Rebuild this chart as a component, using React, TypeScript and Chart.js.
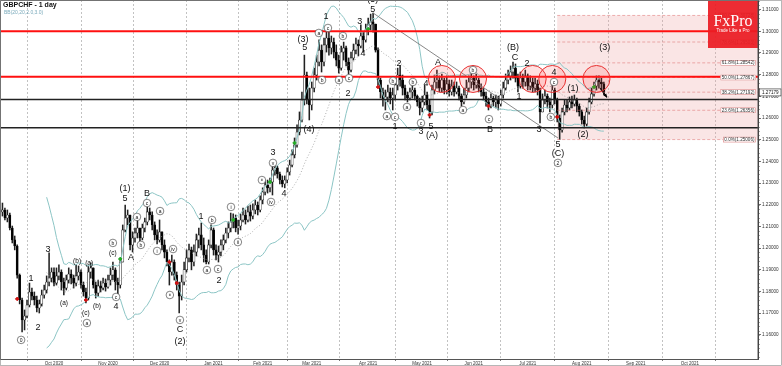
import React, { useEffect, useRef } from "react";
import { Chart, registerables } from "chart.js";
Chart.register(...registerables);

// ---- DATA (GBPCHF daily) ----
const firstOpen = 1.2180;
const closes = [
  1.2167,1.2176,1.2139,1.2153,1.2093,1.2038,1.2010,1.1876,1.1761,1.1669,
  1.1687,1.1738,1.1798,1.1779,1.1761,1.1724,1.1743,1.1784,1.1807,1.1844,
  1.1862,1.1890,1.1839,1.1872,1.1890,1.1844,1.1816,1.1853,1.1881,1.1862,
  1.1839,1.1872,1.1890,1.1830,1.1798,1.1770,1.1890,1.1909,1.1830,1.1793,
  1.1826,1.1816,1.1839,1.1821,1.1853,1.1876,1.1900,1.1844,1.1830,1.1936,
  1.2084,1.2139,1.2153,1.2015,1.2047,1.2070,1.2093,1.2047,1.2093,1.2121,
  1.2167,1.2153,1.2107,1.2061,1.2038,1.2075,1.2015,1.1982,1.1936,1.1890,
  1.1936,1.1876,1.1830,1.1779,1.1844,1.1900,1.1955,1.1992,1.1936,1.1982,
  1.2038,1.2061,1.2015,1.1968,1.1936,1.2015,1.2084,1.1992,1.1968,1.1982,
  1.2015,1.2038,1.2070,1.2093,1.2121,1.2139,1.2093,1.2102,1.2130,1.2153,
  1.2130,1.2167,1.2148,1.2176,1.2199,1.2176,1.2222,1.2259,1.2291,1.2278,
  1.2305,1.2360,1.2370,1.2342,1.2314,1.2296,1.2314,1.2351,1.2383,1.2430,
  1.2476,1.2535,1.2591,1.2683,1.2798,1.2683,1.2660,1.2738,1.2798,1.2858,
  1.2913,1.2858,1.2937,1.2969,1.2923,1.2950,1.2904,1.2867,1.2830,1.2904,
  1.2923,1.2858,1.2821,1.2877,1.2913,1.2941,1.2932,1.2978,1.2960,1.3006,
  1.3029,1.3043,1.3033,1.2913,1.2775,1.2720,1.2683,1.2697,1.2720,1.2692,
  1.2706,1.2752,1.2798,1.2775,1.2738,1.2706,1.2692,1.2720,1.2729,1.2701,
  1.2674,1.2646,1.2674,1.2706,1.2660,1.2628,1.2729,1.2766,1.2775,1.2738,
  1.2775,1.2729,1.2757,1.2720,1.2747,1.2720,1.2738,1.2701,1.2674,1.2706,
  1.2738,1.2766,1.2784,1.2752,1.2775,1.2738,1.2720,1.2701,1.2674,1.2660,
  1.2692,1.2674,1.2683,1.2665,1.2706,1.2738,1.2775,1.2794,1.2812,1.2830,
  1.2784,1.2747,1.2784,1.2766,1.2794,1.2747,1.2766,1.2738,1.2757,1.2729,
  1.2628,1.2683,1.2701,1.2674,1.2660,1.2729,1.2683,1.2600,1.2545,1.2628,
  1.2660,1.2646,1.2674,1.2665,1.2683,1.2655,1.2628,1.2591,1.2572,1.2628,
  1.2674,1.2711,1.2747,1.2775,1.2766,1.2757,1.2718,
];
const highs = [
  1.2199,1.2208,1.2185,1.2176,1.2162,1.2102,1.2056,1.2015,1.1881,1.1770,
  1.1715,1.1761,1.1839,1.1816,1.1798,1.1779,1.1761,1.1807,1.1830,1.1872,
  1.1978,1.1909,1.1909,1.1909,1.1923,1.1900,1.1862,1.1876,1.1909,1.1900,
  1.1876,1.1923,1.1918,1.1900,1.1844,1.1816,1.1918,1.1932,1.1909,1.1844,
  1.1853,1.1848,1.1862,1.1858,1.1876,1.1909,1.1936,1.1909,1.1862,1.1955,
  1.2107,1.2199,1.2176,1.2153,1.2075,1.2093,1.2130,1.2093,1.2111,1.2139,
  1.2190,1.2185,1.2167,1.2121,1.2084,1.2130,1.2075,1.2038,1.1992,1.1946,
  1.1968,1.1946,1.1890,1.1844,1.1876,1.1936,1.1992,1.2019,1.2005,1.2015,
  1.2065,1.2093,1.2116,1.2047,1.1992,1.2038,1.2107,1.2093,1.2015,1.2010,
  1.2038,1.2061,1.2093,1.2121,1.2162,1.2158,1.2153,1.2130,1.2158,1.2185,
  1.2176,1.2194,1.2199,1.2204,1.2222,1.2213,1.2241,1.2278,1.2310,1.2314,
  1.2323,1.2379,1.2388,1.2379,1.2351,1.2333,1.2333,1.2370,1.2406,1.2453,
  1.2508,1.2568,1.2628,1.2720,1.2890,1.2812,1.2738,1.2766,1.2830,1.2890,
  1.2960,1.2937,1.2969,1.3006,1.2996,1.2978,1.2969,1.2937,1.2890,1.2932,
  1.2950,1.2932,1.2877,1.2904,1.2941,1.2969,1.2960,1.3029,1.2996,1.3033,
  1.3061,1.3079,1.3084,1.3033,1.2923,1.2784,1.2738,1.2729,1.2752,1.2738,
  1.2738,1.2775,1.2830,1.2840,1.2798,1.2752,1.2720,1.2738,1.2757,1.2738,
  1.2706,1.2692,1.2701,1.2752,1.2720,1.2683,1.2752,1.2798,1.2821,1.2794,
  1.2803,1.2784,1.2794,1.2775,1.2775,1.2766,1.2766,1.2747,1.2711,1.2738,
  1.2775,1.2794,1.2803,1.2794,1.2803,1.2784,1.2757,1.2738,1.2720,1.2692,
  1.2711,1.2701,1.2706,1.2701,1.2729,1.2766,1.2803,1.2821,1.2840,1.2858,
  1.2849,1.2803,1.2812,1.2803,1.2821,1.2803,1.2794,1.2784,1.2784,1.2775,
  1.2738,1.2711,1.2729,1.2711,1.2692,1.2761,1.2738,1.2692,1.2614,1.2646,
  1.2683,1.2683,1.2697,1.2701,1.2706,1.2692,1.2665,1.2637,1.2609,1.2646,
  1.2692,1.2738,1.2766,1.2794,1.2794,1.2784,1.2766,
];
const lows = [
  1.2153,1.2148,1.2130,1.2121,1.2084,1.2024,1.1992,1.1862,1.1743,1.1614,
  1.1623,1.1678,1.1729,1.1761,1.1738,1.1706,1.1701,1.1733,1.1770,1.1793,
  1.1826,1.1844,1.1826,1.1830,1.1853,1.1807,1.1784,1.1807,1.1839,1.1835,
  1.1816,1.1826,1.1853,1.1816,1.1779,1.1747,1.1761,1.1862,1.1816,1.1770,
  1.1779,1.1798,1.1807,1.1802,1.1816,1.1830,1.1853,1.1807,1.1784,1.1816,
  1.1936,1.2075,1.2107,1.1992,1.1982,1.2028,1.2047,1.2028,1.2038,1.2075,
  1.2107,1.2130,1.2084,1.2038,1.2019,1.2028,1.1992,1.1955,1.1918,1.1830,
  1.1876,1.1853,1.1807,1.1701,1.1761,1.1830,1.1890,1.1936,1.1900,1.1918,
  1.1964,1.2001,1.1992,1.1936,1.1927,1.1927,1.2001,1.1968,1.1946,1.1936,
  1.1964,1.1992,1.2024,1.2047,1.2075,1.2093,1.2075,1.2065,1.2084,1.2121,
  1.2111,1.2121,1.2125,1.2135,1.2158,1.2153,1.2167,1.2204,1.2245,1.2254,
  1.2259,1.2245,1.2337,1.2323,1.2296,1.2282,1.2278,1.2301,1.2337,1.2374,
  1.2416,1.2466,1.2522,1.2582,1.2660,1.2665,1.2591,1.2637,1.2720,1.2775,
  1.2840,1.2812,1.2840,1.2904,1.2890,1.2895,1.2877,1.2840,1.2807,1.2821,
  1.2867,1.2840,1.2803,1.2812,1.2867,1.2895,1.2886,1.2923,1.2904,1.2950,
  1.2983,1.3006,1.2996,1.2904,1.2752,1.2692,1.2655,1.2637,1.2674,1.2665,
  1.2637,1.2683,1.2729,1.2747,1.2706,1.2683,1.2674,1.2683,1.2692,1.2683,
  1.2655,1.2614,1.2628,1.2660,1.2637,1.2600,1.2614,1.2711,1.2738,1.2720,
  1.2720,1.2711,1.2711,1.2701,1.2706,1.2701,1.2711,1.2683,1.2655,1.2665,
  1.2692,1.2720,1.2738,1.2729,1.2738,1.2720,1.2701,1.2683,1.2655,1.2637,
  1.2646,1.2655,1.2646,1.2637,1.2655,1.2692,1.2729,1.2757,1.2775,1.2784,
  1.2766,1.2720,1.2738,1.2738,1.2747,1.2729,1.2729,1.2720,1.2720,1.2706,
  1.2577,1.2628,1.2665,1.2646,1.2628,1.2646,1.2665,1.2582,1.2501,1.2535,
  1.2614,1.2628,1.2637,1.2646,1.2655,1.2628,1.2609,1.2572,1.2554,1.2563,
  1.2618,1.2665,1.2701,1.2729,1.2738,1.2729,1.2706,
];

const monthTickBars = [22, 44, 65, 87, 107, 127, 150, 172, 193, 215, 237, 259, 281, 302];
const monthTickLabels = ["Oct 2020","Nov 2020","Dec 2020","Jan 2021","Feb 2021","Mar 2021","Apr 2021","May 2021","Jun 2021","Jul 2021","Aug 2021","Sep 2021","Oct 2021",""];
const priceTicks = [1.16,1.17,1.18,1.19,1.20,1.21,1.22,1.23,1.24,1.25,1.26,1.27,1.28,1.29,1.30,1.31];

const redLevels = [1.3000, 1.2790];
const blackLevels = [1.2685, 1.2555];
const fibRatios = [100.0, 78.6, 61.8, 50.0, 38.2, 23.6, 0.0];
const fibLow = 1.25006;
const fibHigh = 1.30728;
const fibStartBar = 227;
const currentPrice = 1.27179;
const trendLineBars = [152, 227.3];
const trendLinePrices = [1.3084, 1.2508];
const circleBars = [180, 192.7, 217, 225, 243];
const circlePrice = 1.2780;
const arrowBars = [244.5, 247.3];
const arrowPrices = [1.2738, 1.2695];
const redMarkBars = [7, 35, 69, 72, 154, 175, 199, 227];
const redMarkPrices = [1.1766, 1.1761, 1.1936, 1.1839, 1.2743, 1.2614, 1.2655, 1.2605];
const greenMarkBars = [49, 95, 110, 120, 150, 242];
const greenMarkPrices = [1.1950, 1.2130, 1.2305, 1.2485, 1.3010, 1.2743];

// [bar, price, text, kind]  kind: L = wave number, c = circled, s = small
const waveLabels: [number, number, string, string][] = [
  [8.6,1.1577,"0","c"],[12.6,1.1858,"1","L"],[15.5,1.1632,"2","L"],[19.6,1.1992,"3","L"],
  [26.1,1.1747,"(a)","s"],[31.4,1.1941,"(b)","s"],[35.0,1.1701,"(c)","s"],[35.4,1.1655,"a","c"],
  [36.3,1.1932,"(a)","s"],[39.5,1.1733,"(b)","s"],[46.0,1.1978,"(c)","s"],[46.0,1.2024,"b","c"],
  [47.3,1.1775,"c","c"],[47.3,1.1729,"4","L"],[50.9,1.2273,"(1)","L"],[50.9,1.2231,"5","L"],
  [53.4,1.1959,"A","L"],[55.8,1.2144,"a","c"],[57.4,1.2015,"b","c"],[59.9,1.2254,"B","L"],
  [59.9,1.2208,"c","c"],[65.2,1.2171,"a","c"],[64.0,1.1987,"i","c"],[70.5,1.1996,"iv","c"],
  [69.2,1.1784,"iii","c"],[73.3,1.1669,"v","c"],[73.3,1.1623,"C","L"],[73.3,1.1569,"(2)","L"],
  [81.9,1.2144,"1","L"],[84.3,1.1899,"a","c"],[86.4,1.2130,"b","c"],[88.8,1.1904,"c","c"],
  [89.2,1.1853,"2","L"],[94.1,1.2190,"i","c"],[96.9,1.2028,"ii","c"],[106.7,1.2314,"iii","c"],
  [111.2,1.2393,"v","c"],[111.2,1.2439,"3","L"],[110.4,1.2213,"iv","c"],[115.7,1.2254,"4","L"],
  [123.4,1.2964,"(3)","L"],[124.2,1.2923,"5","L"],[125.9,1.2549,"(4)","L"],[129.9,1.2992,"a","c"],
  [132.8,1.3066,"1","L"],[133.6,1.3015,"c","c"],[131.2,1.2775,"b","c"],[138.1,1.2775,"a","c"],
  [139.7,1.2978,"b","c"],[142.2,1.2784,"c","c"],[141.8,1.2715,"2","L"],[146.6,1.3043,"3","L"],
  [147.9,1.2895,"4","L"],[151.9,1.3098,"5","L"],[151.9,1.3146,"(5)","L"],[157.6,1.2609,"a","c"],
  [160.9,1.2605,"c","c"],[160.1,1.2771,"b","c"],[162.5,1.2849,"2","L"],[168.2,1.2766,"b","c"],
  [160.9,1.2563,"1","L"],[165.8,1.2651,"a","c"],[171.5,1.2577,"c","c"],[171.5,1.2536,"3","L"],
  [173.5,1.2761,"4","L"],[175.6,1.2559,"5","L"],[176.0,1.2517,"(A)","L"],[178.4,1.2854,"A","L"],
  [188.6,1.2637,"a","c"],[192.7,1.2821,"b","c"],[199.2,1.2595,"c","c"],[199.6,1.2545,"B","L"],
  [209.0,1.2927,"(B)","L"],[209.8,1.2881,"C","L"],[214.7,1.2849,"2","L"],[211.4,1.2697,"1","L"],
  [219.6,1.2549,"3","L"],[224.4,1.2605,"b","c"],[225.7,1.2766,"c","c"],[225.7,1.2812,"4","L"],
  [227.3,1.2480,"5","L"],[227.3,1.2434,"(C)","L"],[227.3,1.2393,"2","c"],[233.4,1.2738,"(1)","L"],
  [237.5,1.2522,"(2)","L"],[246.4,1.2923,"(3)","L"],
];

const BB_PERIOD = 20;
const BB_DEV = 2;
const X_MAX = 308.8;
const Y_MIN = 1.1489;
const Y_MAX = 1.3144;
const FONT = '"Liberation Sans", Arial, sans-serif';

export default function App() {
  const ref = useRef<HTMLCanvasElement | null>(null);

  useEffect(() => {
    document.body.style.margin = "0";
    const canvas = ref.current!;
    const opens = closes.map((c, i) => (i === 0 ? firstOpen : closes[i - 1]));
    const wickData = closes.map((c, i) => ({ x: i, y: [Math.min(lows[i], opens[i], c), Math.max(highs[i], opens[i], c)] }));
    const bodyData = closes.map((c, i) => {
      const lo = Math.min(opens[i], c), hi = Math.max(opens[i], c);
      return { x: i, y: [lo, hi === lo ? hi + 0.00005 : hi] };
    });
    const bodyColors = closes.map((c, i) => (c >= opens[i] ? "#ffffff" : "#000000"));

    const bbUp: any[] = [], bbLo: any[] = [], bbMid: any[] = [];
    for (let i = BB_PERIOD - 1; i < closes.length; i++) {
      const w = closes.slice(i - BB_PERIOD + 1, i + 1);
      const m = w.reduce((a, b) => a + b, 0) / BB_PERIOD;
      const sd = Math.sqrt(w.reduce((a, b) => a + (b - m) * (b - m), 0) / BB_PERIOD);
      bbUp.push({ x: i, y: m + BB_DEV * sd });
      bbLo.push({ x: i, y: m - BB_DEV * sd });
      bbMid.push({ x: i, y: m });
    }
    const fibLevels = fibRatios.map((r) => fibLow + ((fibHigh - fibLow) * r) / 100);

    const hLine = (v: number, color: string, width: number, from = 0, dash: number[] = []) => ({
      type: "line",
      data: [{ x: from, y: v }, { x: X_MAX, y: v }],
      borderColor: color, borderWidth: width, borderDash: dash,
      pointRadius: 0, pointHoverRadius: 0, order: 0,
    });

    const datasets: any[] = [
      ...redLevels.map((v) => hLine(v, "#ff1010", 2)),
      ...blackLevels.map((v) => hLine(v, "#222222", 1.6)),
      ...fibLevels.map((v) => hLine(v, "rgba(220,110,110,0.75)", 0.7, fibStartBar, [3, 2])),
      {
        type: "line",
        data: trendLineBars.map((b, i) => ({ x: b, y: trendLinePrices[i] })),
        borderColor: "#7a7a7a", borderWidth: 0.9, pointRadius: 0, order: 0,
      },
      {
        type: "line",
        data: arrowBars.map((b, i) => ({ x: b, y: arrowPrices[i] })),
        borderColor: "#000", borderWidth: 1.2, pointRadius: 0, order: 0,
      },
      {
        type: "scatter",
        data: redMarkBars.map((b, i) => ({ x: b, y: redMarkPrices[i] })),
        backgroundColor: "#d01010", borderColor: "#d01010", pointStyle: "rectRot", pointRadius: 1.8, order: 0,
      },
      {
        type: "scatter",
        data: greenMarkBars.map((b, i) => ({ x: b, y: greenMarkPrices[i] })),
        backgroundColor: "#22aa22", borderColor: "#22aa22", pointStyle: "rectRot", pointRadius: 1.8, order: 0,
      },
      { type: "line", data: bbUp, borderColor: "#8cc5c5", borderWidth: 1, pointRadius: 0, order: 1 },
      { type: "line", data: bbLo, borderColor: "#8cc5c5", borderWidth: 1, pointRadius: 0, order: 1 },
      { type: "line", data: bbMid, borderColor: "#9a9a9a", borderWidth: 0.8, borderDash: [1, 2], pointRadius: 0, order: 1 },
      {
        type: "bar", data: bodyData, backgroundColor: bodyColors, borderColor: "#111", borderWidth: 0.6,
        borderSkipped: false, barThickness: 2.2, grouped: false, order: 2,
      },
      {
        type: "bar", data: wickData, backgroundColor: "#222", borderWidth: 0,
        barThickness: 0.9, grouped: false, order: 3,
      },
    ];

    const overlay = {
      id: "overlay",
      beforeDatasetsDraw(chart: any) {
        const { ctx, chartArea: a, scales } = chart;
        const x = scales.x, y = scales.y;
        ctx.save();
        const x0 = x.getPixelForValue(fibStartBar);
        const yt = y.getPixelForValue(fibHigh), yb = y.getPixelForValue(fibLow);
        ctx.fillStyle = "rgba(238,160,160,0.28)";
        ctx.fillRect(x0, yt, a.right - x0, yb - yt);
        ctx.restore();
      },
      afterDatasetsDraw(chart: any) {
        const { ctx, chartArea: a, scales } = chart;
        const x = scales.x, y = scales.y;
        ctx.save();
        ctx.beginPath();
        ctx.rect(a.left, a.top, a.right - a.left, a.bottom - a.top);
        ctx.clip();

        // red circles
        circleBars.forEach((b) => {
          ctx.beginPath();
          ctx.arc(x.getPixelForValue(b), y.getPixelForValue(circlePrice), 13.5, 0, Math.PI * 2);
          ctx.fillStyle = "rgba(255,70,70,0.16)";
          ctx.fill();
          ctx.strokeStyle = "#e83030";
          ctx.lineWidth = 1;
          ctx.stroke();
        });

        // arrow head
        const p1 = { x: x.getPixelForValue(arrowBars[0]), y: y.getPixelForValue(arrowPrices[0]) };
        const p2 = { x: x.getPixelForValue(arrowBars[1]), y: y.getPixelForValue(arrowPrices[1]) };
        const ang = Math.atan2(p2.y - p1.y, p2.x - p1.x);
        ctx.beginPath();
        ctx.moveTo(p2.x, p2.y);
        ctx.lineTo(p2.x - 4 * Math.cos(ang - 0.45), p2.y - 4 * Math.sin(ang - 0.45));
        ctx.lineTo(p2.x - 4 * Math.cos(ang + 0.45), p2.y - 4 * Math.sin(ang + 0.45));
        ctx.closePath();
        ctx.fillStyle = "#000";
        ctx.fill();

        // wave labels
        ctx.textAlign = "center";
        ctx.textBaseline = "middle";
        waveLabels.forEach(([b, p, t, k]) => {
          const px = x.getPixelForValue(b), py = y.getPixelForValue(p);
          if (k === "c") {
            ctx.beginPath();
            ctx.arc(px, py, 3.8, 0, Math.PI * 2);
            ctx.fillStyle = "#fff";
            ctx.fill();
            ctx.strokeStyle = "#333";
            ctx.lineWidth = 0.6;
            ctx.stroke();
            ctx.fillStyle = "#111";
            ctx.font = `${t.length > 2 ? 3.6 : 5}px ${FONT}`;
            ctx.fillText(t, px, py + 0.3);
          } else if (k === "s") {
            ctx.fillStyle = "#111";
            ctx.font = `6.5px ${FONT}`;
            ctx.fillText(t, px, py);
          } else {
            ctx.fillStyle = "#111";
            ctx.font = `9px ${FONT}`;
            ctx.fillText(t, px, py);
          }
        });

        // fib labels
        ctx.font = `4.6px ${FONT}`;
        ctx.textAlign = "right";
        fibRatios.forEach((r) => {
          const v = fibLow + ((fibHigh - fibLow) * r) / 100;
          const py = y.getPixelForValue(v);
          const txt = `${r.toFixed(1)}%(${v.toFixed(5)})`;
          const w = ctx.measureText(txt).width + 3;
          const rx = a.right - 2 - w;
          ctx.fillStyle = "#fff";
          ctx.fillRect(rx, py - 3, w, 6);
          ctx.strokeStyle = "rgba(210,100,100,0.8)";
          ctx.lineWidth = 0.6;
          ctx.strokeRect(rx + 0.5, py - 2.5, w - 1, 5);
          ctx.fillStyle = "#333";
          ctx.fillText(txt, a.right - 3.5, py + 0.3);
        });

        // title
        ctx.textAlign = "left";
        ctx.fillStyle = "#111";
        ctx.font = `bold 7px ${FONT}`;
        ctx.fillText("GBPCHF - 1 day", 3, 5.5);
        ctx.fillStyle = "#7aaabb";
        ctx.font = `5px ${FONT}`;
        ctx.fillText("BB(20,20,2.0,3.0)", 4, 13);

        // logo
        ctx.fillStyle = "rgba(236,28,36,0.93)";
        ctx.fillRect(708, a.top, a.right - 708, 48);
        ctx.fillStyle = "#fff";
        ctx.textAlign = "center";
        ctx.font = `16px "Liberation Serif", "DejaVu Serif", serif`;
        ctx.fillText("FxPro", 733, 22);
        ctx.font = `4.5px ${FONT}`;
        ctx.fillText("Trade Like a Pro", 733, 31);
        ctx.restore();

        // frame + minor ticks + current price
        ctx.save();
        ctx.strokeStyle = "#555";
        ctx.lineWidth = 1;
        ctx.strokeRect(a.left + 0.5, a.top + 0.5, a.right - a.left - 0.5, a.bottom - a.top);
        ctx.strokeStyle = "#444";
        ctx.lineWidth = 0.6;
        for (let v = 1.150; v < Y_MAX; v += 0.002) {
          const py = Math.round(y.getPixelForValue(v)) + 0.5;
          ctx.beginPath();
          ctx.moveTo(a.right, py);
          ctx.lineTo(a.right + 1.8, py);
          ctx.stroke();
        }
        const cy = y.getPixelForValue(currentPrice);
        ctx.fillStyle = "#fff";
        ctx.fillRect(a.right + 1, cy - 3.5, 22, 7);
        ctx.strokeStyle = "#222";
        ctx.lineWidth = 0.6;
        ctx.strokeRect(a.right + 1.5, cy - 3.5, 21.5, 7);
        ctx.fillStyle = "#111";
        ctx.font = `4.6px ${FONT}`;
        ctx.textAlign = "left";
        ctx.textBaseline = "middle";
        ctx.fillText(currentPrice.toFixed(5), a.right + 4, cy + 0.3);
        ctx.strokeStyle = "#888";
        ctx.strokeRect(0.5, 0.5, chart.width - 1, chart.height - 1);
        ctx.restore();
      },
    };

    const chart = new Chart(canvas, {
      type: "bar",
      data: { datasets },
      options: {
        responsive: false,
        animation: false,
        events: [],
        devicePixelRatio: 1,
        layout: { padding: 0, autoPadding: false },
        plugins: { legend: { display: false }, tooltip: { enabled: false } },
        scales: {
          x: {
            type: "linear",
            min: 0,
            max: X_MAX,
            offset: false,
            afterBuildTicks: (s: any) => { s.ticks = monthTickBars.map((v) => ({ value: v })); },
            afterFit: (s: any) => { s.height = 7; s.paddingLeft = 0; s.paddingRight = 0; },
            grid: { color: "#a8a8a8", lineWidth: 0.7, tickLength: 2, tickColor: "#444" },
            border: { display: false, dash: [2, 2] },
            ticks: {
              autoSkip: false, maxRotation: 0, padding: 0, color: "#333",
              font: { size: 4.5, family: FONT },
              callback: (v: any) => { const k = monthTickBars.indexOf(Number(v)); return k >= 0 ? monthTickLabels[k] : ""; },
            },
          },
          y: {
            type: "linear",
            position: "right",
            min: Y_MIN,
            max: Y_MAX,
            afterBuildTicks: (s: any) => { s.ticks = priceTicks.map((v) => ({ value: v })); },
            afterFit: (s: any) => { s.width = 24; s.paddingTop = 0; s.paddingBottom = 0; },
            grid: { drawOnChartArea: false, tickLength: 3, color: "#333", lineWidth: 0.7 },
            border: { display: true, color: "#333" },
            ticks: {
              padding: 1, color: "#333",
              font: { size: 4.6, family: FONT },
              callback: (v: any) => Number(v).toFixed(5),
            },
          },
        },
      },
      plugins: [overlay],
    } as any);
    return () => chart.destroy();
  }, []);

  return (
    <div style={{ width: 782, height: 366 }}>
      <canvas ref={ref} width={782} height={366} style={{ display: "block" }} />
    </div>
  );
}
